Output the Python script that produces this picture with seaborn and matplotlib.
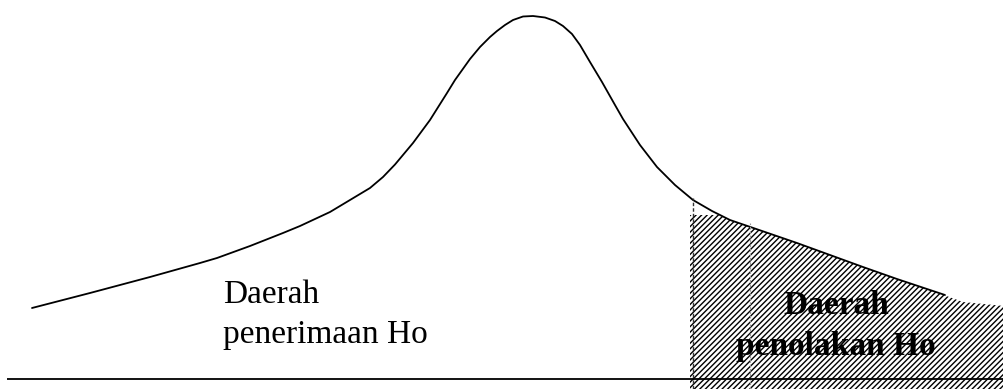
import matplotlib
matplotlib.use("Agg")
import matplotlib.pyplot as plt
import seaborn as sns

# curve: horizontal position and height above the base line
curve_x = [32, 90, 150, 200, 217, 250, 283, 300, 330, 350, 370, 383, 395, 413,
           430, 447, 455, 470, 480, 490, 497, 505, 513, 523, 533, 545, 555,
           563, 572, 580, 590, 602, 615, 623, 640, 657, 675, 693, 712, 730,
           765, 797, 830, 863, 897, 930, 945]
curve_h = [71, 86, 102, 116, 121, 133, 146, 153, 167, 179, 191, 202, 214.5, 236,
           259, 286, 299, 320, 332, 342, 348, 354, 359, 362.5, 363, 361.5, 358,
           353, 345, 334, 317, 297, 274, 260, 234, 212, 194, 179, 168, 159,
           147, 136, 124, 112, 100, 89, 84]

# hatched rejection region (top edge)
reject_x = [690, 720, 730, 765, 797, 830, 863, 897, 930, 963, 1004]
reject_top = [164, 164, 159, 147, 136, 124, 112, 100, 89, 77, 73]
critical_x = [693, 750]
critical_top = [181, 156]

accept_label = ["Daerah", "penerimaan Ho"]
reject_label = ["Daerah", "penolakan Ho"]

sns.set_theme(style="white")
plt.rcParams["font.family"] = ["Liberation Serif", "DejaVu Serif"]
plt.rcParams["hatch.linewidth"] = 1.0
plt.rcParams["text.color"] = "black"

fig = plt.figure(figsize=(10.04, 3.89), dpi=100)
ax = fig.add_axes([0, 0, 1, 1])

# shaded area
ax.fill_between(reject_x, -10, reject_top, facecolor="white", edgecolor="black",
                hatch="//////", linewidth=0)

# the curve
sns.lineplot(x=curve_x, y=curve_h, ax=ax, color="black", linewidth=1.3)

# dashed borders of the region
ax.vlines(critical_x[0], -10, critical_top[0], colors="#333333", linestyles=(0, (2.5, 1.5)), linewidth=1.0)
ax.vlines(critical_x[1], -10, critical_top[1], colors="#999999", linestyles=(0, (2.5, 1.5)), linewidth=0.8)

# base line
ax.hlines(0, 7, 1004, colors="black", linewidth=1.3)

# labels
ax.text(223, 76, accept_label[0], fontsize=24, va="baseline", ha="left", color="black")
ax.text(223, 36, accept_label[1], fontsize=24, va="baseline", ha="left", color="black")
ax.text(836, 65, reject_label[0], fontsize=24, fontweight="bold", va="baseline", ha="center", color="black")
ax.text(836, 24, reject_label[1], fontsize=24, fontweight="bold", va="baseline", ha="center", color="black")

ax.set_xlim(0, 1004)
ax.set_ylim(-10, 379)
ax.axis("off")

fig.savefig("out.png", dpi=100)
